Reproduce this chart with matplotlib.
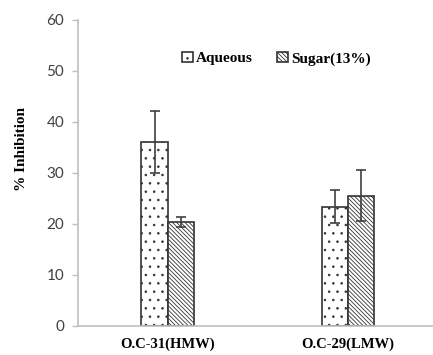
import numpy as np
import matplotlib
matplotlib.use("Agg")
import matplotlib.pyplot as plt

groups = ["O.C-31(HMW)", "O.C-29(LMW)"]
aqueous = [36.0, 23.4]
aqueous_err = [6.1, 3.2]
sugar = [20.4, 25.5]
sugar_err = [1.0, 5.0]

plt.rcParams['hatch.linewidth'] = 0.6
plt.rcParams['hatch.color'] = '#555555'

fig = plt.figure(figsize=(4.33, 3.55), dpi=100)
ax = fig.add_axes([0.180, 0.0817, 0.82, 0.863])

x = np.arange(len(groups))
w = 0.147
ekw = dict(ecolor='#404040', elinewidth=1.2, capsize=3.5, capthick=1.2)

ax.bar(x - w/2, aqueous, w, yerr=aqueous_err, color='white', edgecolor='#333333',
       linewidth=1.2, hatch='..', label='Aqueous', error_kw=ekw, zorder=2)
ax.bar(x + w/2, sugar, w, yerr=sugar_err, color='white', edgecolor='#333333',
       linewidth=1.2, hatch='\\' * 8, label='Sugar(13%)', error_kw=ekw, zorder=2)

ax.set_xlim(-0.5, 1.472)
ax.set_ylim(0, 60)
ax.set_yticks(range(0, 61, 10))
ax.set_xticks(x)
ax.set_xticklabels(groups, fontfamily='Liberation Serif', fontweight='bold', fontsize=10.5)
ax.tick_params(axis='x', length=0, pad=8)
ax.tick_params(axis='y', colors='#bfbfbf', labelcolor='#404040', labelsize=11,
               length=4, width=1, pad=6)
for lab in ax.get_yticklabels():
    lab.set_fontfamily('Lato')

for s in ['top', 'right']:
    ax.spines[s].set_visible(False)
for s in ['left', 'bottom']:
    ax.spines[s].set_color('#bfbfbf')
    ax.spines[s].set_linewidth(1.2)

fig.text(0.05, 0.58, '% Inhibition', rotation=90, ha='center', va='center',
         fontfamily='Liberation Serif', fontweight='bold', fontsize=11)

ax.legend(loc='upper left', bbox_to_anchor=(0.255, 0.94), ncol=2, frameon=False,
          prop={'family': 'Liberation Serif', 'weight': 'bold', 'size': 11},
          handlelength=0.7, handleheight=0.7, handletextpad=0.2, columnspacing=1.6)

fig.savefig('out.png', dpi=100)
